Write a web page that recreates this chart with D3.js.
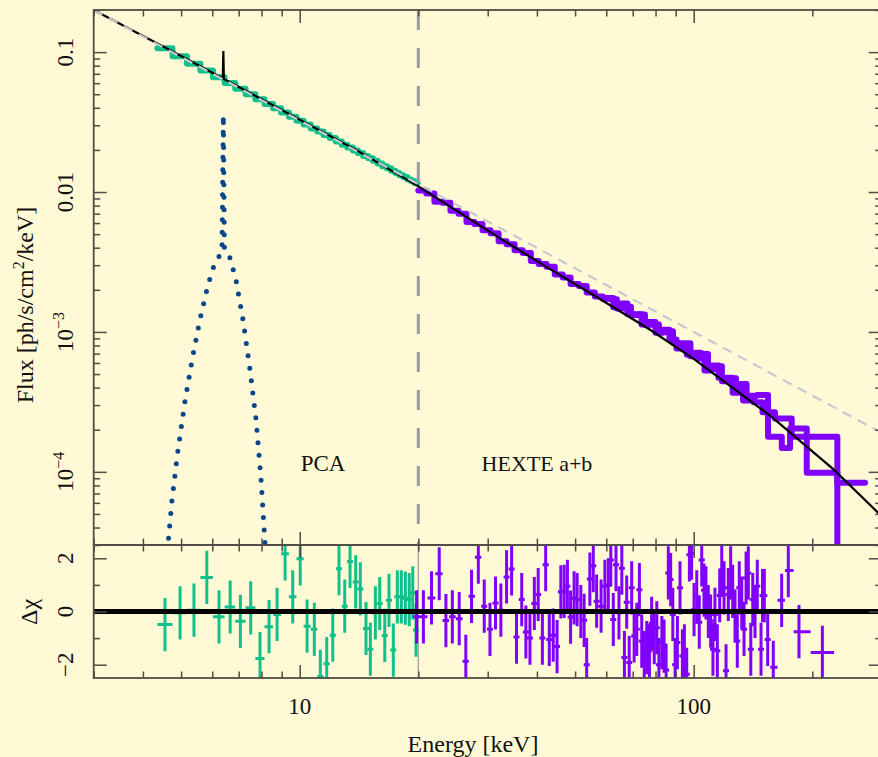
<!DOCTYPE html>
<html>
<head>
<meta charset="utf-8">
<script src="https://cdn.jsdelivr.net/npm/d3@7"></script>
<style>
  body { margin: 0; background: #fffad5; }
  text { font-family: "Liberation Serif", "Times New Roman", serif; fill: #111; }
</style>
</head>
<body>
<svg id="chart"></svg>
<script>
// best-fit model (black) and bare power law (grey dashed), keV vs ph/s/cm2/keV
const modelE = [3, 5, 6.2, 6.38, 6.4, 6.42, 6.6, 8, 10, 14, 20, 32.2, 43.2, 57.8, 77.5, 100, 158, 226, 300];
const modelF = [0.2, 0.0939, 0.0677, 0.065, 0.102, 0.0641, 0.0616, 0.0461, 0.0329, 0.01977, 0.01098,
  0.00468, 0.00281, 0.00172, 0.001037, 0.000642, 0.000246, 0.0001046, 0.0000482];
const powE = [3, 300];
const powF = [0.2, 0.00019];

// iron line component (dotted)
const lineE = [4.52, 4.63, 4.74, 4.91, 5.12, 5.33, 5.58, 5.85, 6.1, 6.35, 6.4, 6.44, 6.66, 6.89, 7.18, 7.48, 7.75, 7.98, 8.17, 8.31];
const lineF = [0.000012, 0.0000299, 0.0000627, 0.000143, 0.000326, 0.00063, 0.00122, 0.00217, 0.00316, 0.00373,
  0.0356, 0.00373, 0.00338, 0.00235, 0.00122, 0.000534, 0.000234, 0.0000873, 0.0000299, 0.000012];

// PCA channels: spectrum and residuals
const pcaE = [4.55, 4.97, 5.39, 5.81, 6.24, 6.66, 7.07, 7.51, 7.93, 8.36, 8.76, 9.18, 9.6, 10.03, 10.44, 10.89,
  11.28, 11.71, 12.13, 12.58, 13.01, 13.42, 13.87, 14.25, 14.73, 15.11, 15.56, 15.96, 16.44, 16.85, 17.28,
  17.69, 18.11, 18.54, 18.97, 19.36, 19.73];
const pcaF = [0.1066, 0.0934, 0.0825, 0.0738, 0.0662, 0.0601, 0.0548, 0.05, 0.0461, 0.0426, 0.0397, 0.037,
  0.0345, 0.0323, 0.0304, 0.0285, 0.0271, 0.0256, 0.0243, 0.023, 0.0218, 0.0208, 0.0198, 0.019, 0.0181,
  0.0174, 0.0167, 0.016, 0.0153, 0.0148, 0.0142, 0.0137, 0.0132, 0.0128, 0.0123, 0.012, 0.0116];
const pcaRes = [-0.49, -0.05, 0.05, 1.28, -0.2, 0.17, -0.37, 0.14, -1.77, -0.57, -0.11, 2.17, 0.55, 1.98, -0.55,
  -0.67, -2.44, -1.96, -0.89, 1.61, 0.2, 1.88, 1.11, 0.85, -0.64, -1.42, -0.05, 0.3, -0.9, 0.42, -1.45, 0.55,
  0.55, 0.5, 0.45, 0.7, -0.7];

// HEXTE cluster a: bin edges (keV) and flux
const hexAEdges = [20, 20.96, 21.97, 23.02, 24.13, 25.29, 26.5, 27.77, 29.1, 30.5, 31.97, 33.5, 35.1, 36.8, 38.6,
  40.4, 42.3, 44.4, 46.5, 48.7, 51.1, 53.5, 56.1, 58.8, 61.3, 63.8, 66.5, 69.3, 72.2, 75.2, 78.3, 81.6, 85,
  88.6, 92.3, 96.1, 100.1, 104.3, 108.7, 113.2, 117.9, 122.9, 128, 133.4, 138.9, 144.7, 154.4, 167.3, 175.6,
  193.6, 231.5, 272.2];
const hexAF = [0.01026, 0.00975, 0.00853, 0.00839, 0.00735, 0.00698, 0.00611, 0.00591, 0.00534, 0.00508,
  0.00445, 0.00423, 0.00384, 0.00366, 0.00321, 0.00306, 0.00292, 0.00257, 0.00245, 0.0022, 0.00213, 0.00191,
  0.00179, 0.001725, 0.001714, 0.00147, 0.001512, 0.001319, 0.001334, 0.001126, 0.001131, 0.000993, 0.001013,
  0.000833, 0.000809, 0.000687, 0.00071, 0.000696, 0.000543, 0.000569, 0.000444, 0.000466, 0.000401,
  0.000323, 0.00035, 0.000354, 0.000178, 0.000148, 0.000204, 0.0000984, 0.0000834];

// HEXTE cluster b: bin edges (keV) and flux
const hexBEdges = [60, 62.5, 65.1, 67.9, 70.7, 73.7, 76.8, 80, 83.3, 86.8, 90.4, 94.2, 98.1, 102.2, 106.5, 111,
  115.6, 120.4, 125.5, 130.7, 136.2, 141.9, 149.5, 160.8, 177.3, 193.6, 231.5, 272.2];
const hexBF = [0.001748, 0.0015, 0.001594, 0.001345, 0.001338, 0.001128, 0.001177, 0.000985, 0.001037,
  0.000882, 0.000762, 0.00083, 0.00067, 0.000647, 0.00053, 0.000575, 0.000471, 0.00047, 0.000367, 0.000424,
  0.000347, 0.000315, 0.000267, 0.000241, 0.000178, 0.000178, 0.00001];

// HEXTE residuals
const hexResE = [19.8, 20.6, 21.6, 22.6, 23.5, 24.4, 25.4, 26.4, 27.3, 28.4, 29.4, 30.4, 31.4, 32.4, 33.5, 34.5,
  35.5, 36.6, 37.5, 38.4, 39.4, 40.3, 41.3, 42.1, 43, 44, 45, 46, 46.9, 47.8, 48.7, 49.7, 50.6, 51.7, 52.7,
  53.5, 54.5, 55.6, 56.7, 58.2, 59.5, 60.7, 61.6, 62.5, 63.5, 64.6, 65.7, 66.7, 67.6, 68.6, 69.6, 70.6, 71.7,
  72.8, 73.8, 74.9, 76, 77.2, 78.2, 79.4, 80.6, 81.6, 83, 84.1, 85.1, 86.2, 87.4, 88.5, 89.7, 90.9, 92.3, 93.6,
  94.7, 96, 97.5, 98.8, 100.2, 101.8, 103.3, 104.8, 106.2, 107.4, 108.9, 110.4, 111.9, 113.2, 114.8, 116.4,
  117.8, 119.4, 120.8, 122.4, 124.1, 125.6, 127.3, 129, 130.5, 132.4, 134.2, 135.8, 137.6, 139.6, 141.2,
  143.1, 145, 148.2, 149.5, 151.1, 154.1, 159.2, 167.2, 173.8, 185, 212.1];
const hexRes = [-0.2, -0.2, 0.51, 1.42, -0.34, -0.2, -0.27, -1.87, 0.57, 2.04, 0.2, -0.67, 0.32, 0.05, 1.3, 1.6,
  -0.96, 0.45, -0.77, -1.0, 0.3, 0.64, -1.0, 1.76, -1.05, -0.89, -1.32, 0.74, 0.76, 0.95, -0.21, 0.51, 0.45,
  0.0, -0.33, -2.0, 1.22, 1.72, 0.39, 0.2, 0.95, 1.0, 1.94, -0.3, 1.76, -0.05, 1.63, -1.73, 0.35, -1.92, 0.89,
  -0.92, -0.67, 0.82, -1.11, -1.73, -1.36, -1.48, -0.45, -0.98, -0.61, -2.0, -1.17, -1.3, -2.2, 1.45, 1.2,
  -0.11, -2.0, -1.17, 0.89, -1.67, -1.48, -2.36, 2.13, 2.19, 0.07, 0.55, -0.4, 1.94, 0.8, 0.7, 0.0, -0.36,
  -1.42, -0.11, -1.48, 0.6, 1.57, 0.89, -2.23, 0.64, 1.45, 0.76, -0.17, -1.11, 0.89, 0.32, -0.67, 1.26, 1.45,
  -1.42, 0.45, 0.0, 0.95, -1.42, 0.6, 0.6, -1.05, -2.1, 0.42, 1.54, -0.76, -1.54];

const eSplit = 20;
const xMajor = [10, 100];
const yMajor = [1e-4, 1e-3, 0.01, 0.1];
const rMajor = [-2, 0, 2];
const rMinor = [-1, 1];

const width = 878;
const height = 757;
const GREEN = '#12c08c';
const PURPLE = '#8000ff';
const AXIS = '#4f4d45';

const svg = d3.select('#chart').attr('width', width).attr('height', height);
svg.append('rect').attr('width', width).attr('height', height).attr('fill', '#fffad5');

const x = d3.scaleLog().domain([3, 300]).range([93.7, 881.7]);
const y = d3.scaleLog().domain([3e-5, 0.2]).range([545, 10]);
const yr = d3.scaleLinear().domain([-2.5, 2.5]).range([678, 545]);

const defs = svg.append('defs');
defs.append('clipPath').attr('id', 'clipTop').append('rect')
  .attr('x', x.range()[0]).attr('y', 10).attr('width', x.range()[1] - x.range()[0]).attr('height', 535);
defs.append('clipPath').attr('id', 'clipRes').append('rect')
  .attr('x', x.range()[0]).attr('y', 545).attr('width', x.range()[1] - x.range()[0]).attr('height', 133);

// bin edges halfway (in log) between neighbouring channels
function bins(es) {
  return es.map((e, i) => {
    const lo = i > 0 ? Math.sqrt(e * es[i - 1]) : e * e / Math.sqrt(e * es[i + 1]);
    const hi = i < es.length - 1 ? Math.sqrt(e * es[i + 1]) : e * e / Math.sqrt(e * es[i - 1]);
    return [lo, hi];
  });
}

// ---------- top panel ----------
const topG = svg.append('g').attr('clip-path', 'url(#clipTop)');
const line = d3.line().x(d => x(d[0])).y(d => y(d[1]));

function drawSteps(edges, fs, color) {
  const pts = [];
  fs.forEach((f, i) => { pts.push([edges[i], f], [edges[i + 1], f]); });
  topG.append('path').datum(pts).attr('d', line)
    .attr('fill', 'none').attr('stroke', color).attr('stroke-width', 6)
    .attr('stroke-linecap', 'round').attr('stroke-linejoin', 'round');
}
const pcaBins = bins(pcaE);
drawSteps([pcaBins[0][0], ...pcaBins.map(b => b[1])], pcaF, GREEN);
drawSteps(hexBEdges, hexBF, PURPLE);
drawSteps(hexAEdges, hexAF, PURPLE);

topG.append('path').datum(d3.zip(modelE, modelF)).attr('d', line)
  .attr('fill', 'none').attr('stroke', '#000').attr('stroke-width', 2.2);
topG.append('path').datum(d3.zip(powE, powF)).attr('d', line)
  .attr('fill', 'none').attr('stroke', '#c6c8cf').attr('stroke-width', 2.2).attr('stroke-dasharray', '10,7');
topG.append('path').datum(d3.zip(lineE, lineF)).attr('d', line)
  .attr('fill', 'none').attr('stroke', '#0a468c').attr('stroke-width', 5)
  .attr('stroke-linecap', 'round').attr('stroke-dasharray', '0,12.5');

// instrument boundary
svg.append('line').attr('x1', x(eSplit)).attr('x2', x(eSplit)).attr('y1', 10).attr('y2', 545)
  .attr('stroke', '#9a9a9a').attr('stroke-width', 3).attr('stroke-dasharray', '20,18');
svg.append('line').attr('x1', x(eSplit)).attr('x2', x(eSplit)).attr('y1', 545).attr('y2', 678)
  .attr('stroke', '#a8a8a8').attr('stroke-width', 1.5);

svg.append('text').attr('x', 323).attr('y', 471).attr('text-anchor', 'middle').attr('font-size', 23).text('PCA');
svg.append('text').attr('x', 537).attr('y', 471).attr('text-anchor', 'middle').attr('font-size', 22).text('HEXTE a+b');

// ---------- residual panel ----------
const resG = svg.append('g').attr('clip-path', 'url(#clipRes)');

function drawResid(es, rs, color) {
  const b = bins(es);
  const g = resG.append('g').attr('stroke', color).attr('stroke-width', 3);
  es.forEach((e, i) => {
    const cx = x(e);
    const hl = Math.max(cx - x(b[i][0]), 3);
    const hh = Math.max(x(b[i][1]) - cx, 3);
    g.append('line').attr('x1', cx - hl).attr('x2', cx + hh).attr('y1', yr(rs[i])).attr('y2', yr(rs[i]));
    g.append('line').attr('x1', cx).attr('x2', cx).attr('y1', yr(rs[i] + 1)).attr('y2', yr(rs[i] - 1));
  });
}
drawResid(pcaE, pcaRes, GREEN);
drawResid(hexResE, hexRes, PURPLE);

resG.append('line').attr('x1', x.range()[0]).attr('x2', x.range()[1]).attr('y1', yr(0)).attr('y2', yr(0))
  .attr('stroke', '#000').attr('stroke-width', 5);

// ---------- axes ----------
const xMinor = x.ticks().filter(v => !xMajor.includes(v));
const yMinor = y.ticks().filter(v => !yMajor.some(m => Math.abs(m - v) / m < 1e-6));

function axis(gen, vals, size, tx, ty) {
  const g = svg.append('g').attr('transform', `translate(${tx},${ty})`)
    .call(gen.tickValues(vals).tickSize(size).tickSizeOuter(0).tickFormat(''));
  g.select('.domain').remove();
  g.selectAll('line').attr('stroke', AXIS).attr('stroke-width', 1.5);
}
[[545, 10], [678, 545]].forEach(([bot, tp]) => {
  axis(d3.axisBottom(x), xMajor, -13, 0, bot);
  axis(d3.axisBottom(x), xMinor, -6.5, 0, bot);
  axis(d3.axisTop(x), xMajor, -13, 0, tp);
  axis(d3.axisTop(x), xMinor, -6.5, 0, tp);
});
axis(d3.axisLeft(y), yMajor, -13, x.range()[0], 0);
axis(d3.axisLeft(y), yMinor, -6.5, x.range()[0], 0);
axis(d3.axisRight(y), yMajor, -13, x.range()[1], 0);
axis(d3.axisRight(y), yMinor, -6.5, x.range()[1], 0);
axis(d3.axisLeft(yr), rMajor, -13, x.range()[0], 0);
axis(d3.axisLeft(yr), rMinor, -6.5, x.range()[0], 0);
axis(d3.axisRight(yr), rMajor, -13, x.range()[1], 0);
axis(d3.axisRight(yr), rMinor, -6.5, x.range()[1], 0);

// frames
[[10, 545], [545, 678]].forEach(([a, b]) => {
  svg.append('rect').attr('x', x.range()[0]).attr('y', a).attr('width', x.range()[1] - x.range()[0])
    .attr('height', b - a).attr('fill', 'none').attr('stroke', AXIS).attr('stroke-width', 1.8);
});

// tick labels
xMajor.forEach(v => {
  svg.append('text').attr('x', x(v)).attr('y', 714).attr('text-anchor', 'middle')
    .attr('font-size', 23).text(v);
});

function rotLabel(cx, cy, size) {
  return svg.append('text').attr('transform', `translate(${cx},${cy}) rotate(-90)`)
    .attr('text-anchor', 'middle').attr('font-size', size);
}
yMajor.forEach(v => {
  const t = rotLabel(73, y(v), 23);
  if (v >= 0.01) {
    t.text(v === 0.1 ? '0.1' : '0.01');
  } else {
    t.append('tspan').text('10');
    t.append('tspan').attr('dy', -9).attr('font-size', 16).text('\u2212' + Math.round(-Math.log10(v)));
  }
});
rMajor.forEach(v => {
  rotLabel(73, yr(v), 23).text(v < 0 ? '\u2212' + (-v) : String(v));
});

// axis titles
svg.append('text').attr('x', 473).attr('y', 752).attr('text-anchor', 'middle').attr('font-size', 24)
  .text('Energy [keV]');
const fl = rotLabel(33, 305, 24);
fl.append('tspan').text('Flux [ph/s/cm');
fl.append('tspan').attr('dy', -9).attr('font-size', 16).text('2');
fl.append('tspan').attr('dy', 9).text('/keV]');
rotLabel(37, 612, 24).text('\u0394\u03c7');
</script>
</body>
</html>
